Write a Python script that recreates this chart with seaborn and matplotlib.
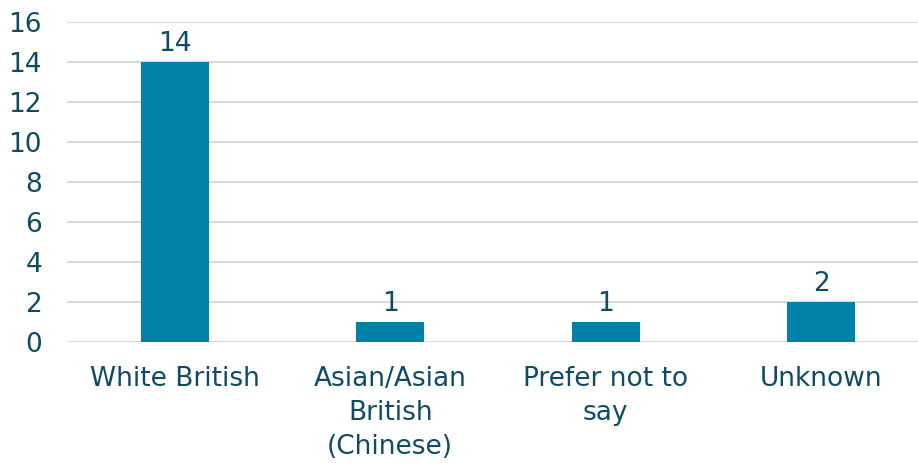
import matplotlib
matplotlib.use("Agg")
import matplotlib.pyplot as plt
import seaborn as sns
import pandas as pd

categories = ["White British", "Asian/Asian\nBritish\n(Chinese)", "Prefer not to\nsay", "Unknown"]
values = [14, 1, 1, 2]
yticks = [0, 2, 4, 6, 8, 10, 12, 14, 16]

bar_color = "#0081A7"
text_color = "#0F4C63"
grid_color = "#D9D9D9"

sns.set_theme(style="white")
plt.rcParams["font.family"] = ["DejaVu Sans"]

df = pd.DataFrame({"cat": categories, "val": values})

fig = plt.figure(figsize=(9.18, 4.63), dpi=100)
ax = fig.add_axes([67 / 918, 1 - 342 / 463, 1 - 67 / 918, 320 / 463])

sns.barplot(data=df, x="cat", y="val", color=bar_color, width=0.315, ax=ax,
            saturation=1, linewidth=0)

ax.set_ylim(0, 16)
ax.set_xlim(-0.5, 3.449)
ax.set_yticks(yticks)
ax.yaxis.grid(True, color=grid_color, linewidth=1.5)
ax.set_axisbelow(True)
for s in ax.spines.values():
    s.set_visible(False)
ax.set_xlabel("")
ax.set_ylabel("")
ax.tick_params(axis="both", length=0, labelsize=19, labelcolor=text_color)
ax.tick_params(axis="y", pad=18)
ax.tick_params(axis="x", pad=17)
for lbl in ax.get_xticklabels():
    lbl.set_linespacing(1.4)

for i, v in enumerate(values):
    ax.text(i, v + 0.25, str(v), ha="center", va="bottom", fontsize=19, color=text_color)

fig.savefig("out.png", dpi=100)
